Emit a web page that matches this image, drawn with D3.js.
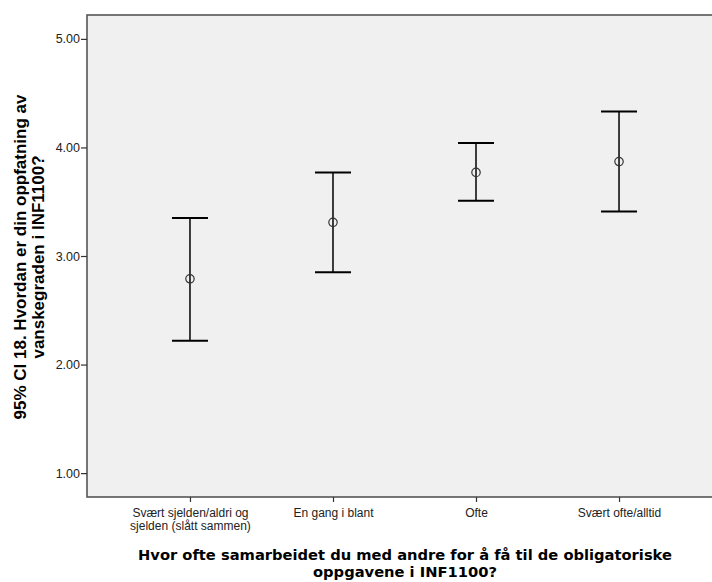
<!DOCTYPE html>
<html>
<head>
  <script src="https://cdnjs.cloudflare.com/ajax/libs/d3/7.8.5/d3.min.js"></script>
  <style>
    body, html { margin: 0; padding: 0; background: white; }
    svg { display: block; }
    .tick-label { font-family: "Liberation Sans", Arial, sans-serif; font-size: 12px; fill: #222; }
    .x-title { font-family: "DejaVu Sans", Verdana, sans-serif; font-weight: bold; fill: #000; }
    .y-title { font-family: "Liberation Sans", Arial, sans-serif; font-weight: bold; fill: #000; }
  </style>
</head>
<body>
<div id="chart"></div>
<script>
// Kategorier på x-aksen (to linjer der det trengs)
const categories = [
  ["Svært sjelden/aldri og", "sjelden (slått sammen)"],
  ["En gang i blant"],
  ["Ofte"],
  ["Svært ofte/alltid"]
];
const means = [2.79, 3.31, 3.77, 3.87];
const lower = [2.22, 2.85, 3.51, 3.41];
const upper = [3.35, 3.77, 4.04, 4.33];
const yTicks = [1, 2, 3, 4, 5];

const width = 712, height = 582;
const plot = { left: 87, right: 722, top: 15, bottom: 497 };

const svg = d3.select("#chart").append("svg")
  .attr("width", width)
  .attr("height", height);

const x = d3.scalePoint()
  .domain(d3.range(categories.length))
  .range([plot.left, plot.right])
  .padding(0.72);

const y = d3.scaleLinear()
  .domain([0.78, 5.22])
  .range([plot.bottom, plot.top]);

// bakgrunn for plottområdet
svg.append("rect")
  .attr("x", plot.left)
  .attr("y", plot.top)
  .attr("width", plot.right - plot.left)
  .attr("height", plot.bottom - plot.top)
  .attr("fill", "#f0f0f0")
  .attr("stroke", "#555")
  .attr("stroke-width", 1.6);

// y-akse
const yAxis = svg.append("g")
  .attr("transform", `translate(${plot.left},0)`)
  .call(d3.axisLeft(y).tickValues(yTicks).tickSize(6).tickFormat(d3.format(".2f")));
yAxis.attr("font-family", null).attr("font-size", null);
yAxis.select(".domain").remove();
yAxis.selectAll(".tick line").attr("stroke", "#333").attr("stroke-width", 1.2);
yAxis.selectAll(".tick text")
  .attr("class", "tick-label")
  .style("font-size", "12.5px")
  .attr("x", -7);

// x-akse
const xAxis = svg.append("g")
  .attr("transform", `translate(0,${plot.bottom})`)
  .call(d3.axisBottom(x).tickSize(5).tickFormat(""));
xAxis.attr("font-family", null).attr("font-size", null);
xAxis.select(".domain").remove();
xAxis.selectAll(".tick line").attr("stroke", "#333").attr("stroke-width", 1.2);

xAxis.selectAll(".tick").each(function(d) {
  const t = d3.select(this).select("text")
    .attr("class", "tick-label")
    .attr("y", 0)
    .attr("dy", null)
    .text(null);
  categories[d].forEach((line, i) => {
    t.append("tspan")
      .attr("x", 0)
      .attr("y", 19.5 + i * 13.5)
      .text(line);
  });
});

// feilstolper
const capHalf = 18;
const bars = svg.append("g")
  .selectAll("g")
  .data(d3.range(categories.length))
  .join("g")
  .attr("transform", d => `translate(${x(d)},0)`);

bars.append("line")
  .attr("y1", d => y(lower[d]))
  .attr("y2", d => y(upper[d]))
  .attr("stroke", "#000")
  .attr("stroke-width", 1.5);

bars.append("line")
  .attr("x1", -capHalf).attr("x2", capHalf)
  .attr("y1", d => y(upper[d])).attr("y2", d => y(upper[d]))
  .attr("stroke", "#000")
  .attr("stroke-width", 2);

bars.append("line")
  .attr("x1", -capHalf).attr("x2", capHalf)
  .attr("y1", d => y(lower[d])).attr("y2", d => y(lower[d]))
  .attr("stroke", "#000")
  .attr("stroke-width", 2);

bars.append("circle")
  .attr("cy", d => y(means[d]))
  .attr("r", 4.2)
  .attr("fill", "none")
  .attr("stroke", "#333")
  .attr("stroke-width", 1.2);

// aksetitler
const xTitle = svg.append("text")
  .attr("class", "x-title")
  .attr("text-anchor", "middle")
  .attr("font-size", 14.7);
xTitle.append("tspan").attr("x", 405).attr("y", 560)
  .text("Hvor ofte samarbeidet du med andre for å få til de obligatoriske");
xTitle.append("tspan").attr("x", 405).attr("y", 577)
  .text("oppgavene i INF1100?");

const yTitle = svg.append("text")
  .attr("class", "y-title")
  .attr("text-anchor", "middle")
  .attr("font-size", 17)
  .attr("transform", "translate(0,257) rotate(-90)");
yTitle.append("tspan").attr("x", 0).attr("y", 25.5)
  .text("95% CI 18. Hvordan er din oppfatning av");
yTitle.append("tspan").attr("x", 0).attr("y", 44)
  .text("vanskegraden i INF1100?");
</script>
</body>
</html>
